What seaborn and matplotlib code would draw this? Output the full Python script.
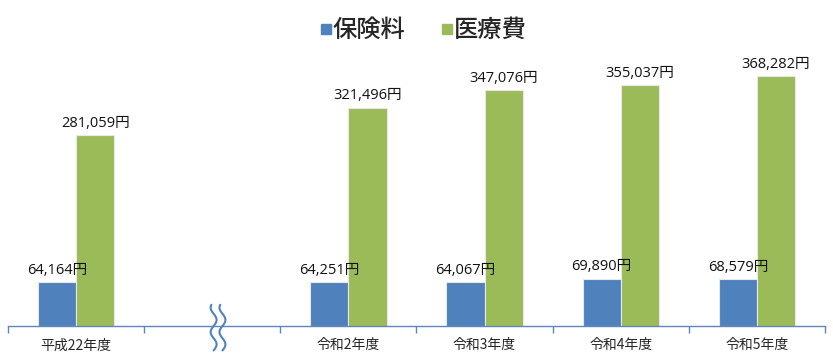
import numpy as np
import pandas as pd
import matplotlib
matplotlib.use("Agg")
import matplotlib.pyplot as plt
import matplotlib.transforms as mtransforms
from matplotlib.lines import Line2D
import seaborn as sns

sns.set_style("white")
plt.rcParams['font.family'] = ['Noto Sans CJK JP', 'DejaVu Sans']

# データ
nendo = ["平成22年度", "", "令和2年度", "令和3年度", "令和4年度", "令和5年度"]
hokenryo = [64164, np.nan, 64251, 64067, 69890, 68579]
iryohi = [281059, np.nan, 321496, 347076, 355037, 368282]
series = ["保険料", "医療費"]
colors = ["#4F81BD", "#9BBB59"]

df = pd.DataFrame({
    "年度": nendo * 2,
    "種類": [series[0]] * len(nendo) + [series[1]] * len(nendo),
    "金額": hokenryo + iryohi,
})

fig = plt.figure(figsize=(8.33, 3.57), dpi=100)
ax = fig.add_axes([8 / 833, 31 / 357, 817 / 833, 326 / 357])

sns.barplot(data=df, x="年度", y="金額", hue="種類", order=nendo,
            hue_order=series, palette=colors, width=0.56, ax=ax,
            legend=False, errorbar=None, saturation=1,
            edgecolor="#e8e8e8", linewidth=0.8)

# 値ラベル
for cont in ax.containers:
    for bar in cont:
        if bar is None:
            continue
        h = bar.get_height()
        if np.isnan(h):
            continue
        ax.annotate(f"{h:,.0f}円", (bar.get_x() + bar.get_width() / 2, h),
                    xytext=(0, 3), textcoords="offset points",
                    ha="center", va="bottom", fontsize=10.5, color="#111111",
                    family=['Open Sans', 'Noto Sans CJK JP'])

ax.set_ylim(0, 480000)
ax.set_xlim(-0.5, len(nendo) - 0.5)
ax.set_xlabel("")
ax.set_ylabel("")
ax.set_yticks([])
for s in ["top", "left", "right"]:
    ax.spines[s].set_visible(False)
ax.spines["bottom"].set_color("#5F85BD")
ax.spines["bottom"].set_linewidth(1.0)

ax.set_xticks(range(len(nendo)))
ax.set_xticklabels(nendo, fontsize=10)
ax.tick_params(axis="x", which="major", length=0, pad=9)
ax.set_xticks(np.arange(-0.5, len(nendo)), minor=True)
ax.tick_params(axis="x", which="minor", bottom=True, length=5,
               color="#5F85BD", width=1, direction="out")

# 省略記号（波線）
trans = mtransforms.blended_transform_factory(ax.transData, ax.transAxes)
t = np.linspace(-0.075, 0.065, 60)
for off in [0.0, 0.065]:
    ax.plot(1.01 + off + 0.022 * np.sin(t * 2 * np.pi / 0.075), t,
            transform=trans, color="#4F81BD", lw=1.5, clip_on=False)

# 凡例
handles = [Line2D([0], [0], marker="s", linestyle="", markersize=7,
                  markerfacecolor=c, markeredgecolor=c) for c in colors]
fig.legend(handles, series, loc="center", bbox_to_anchor=(0.503, 0.915),
           ncol=2, frameon=False, handletextpad=-0.3, handlelength=1.2,
           columnspacing=1.1, prop={"size": 17.5, "weight": "medium"})

fig.savefig("out.png", dpi=100)
